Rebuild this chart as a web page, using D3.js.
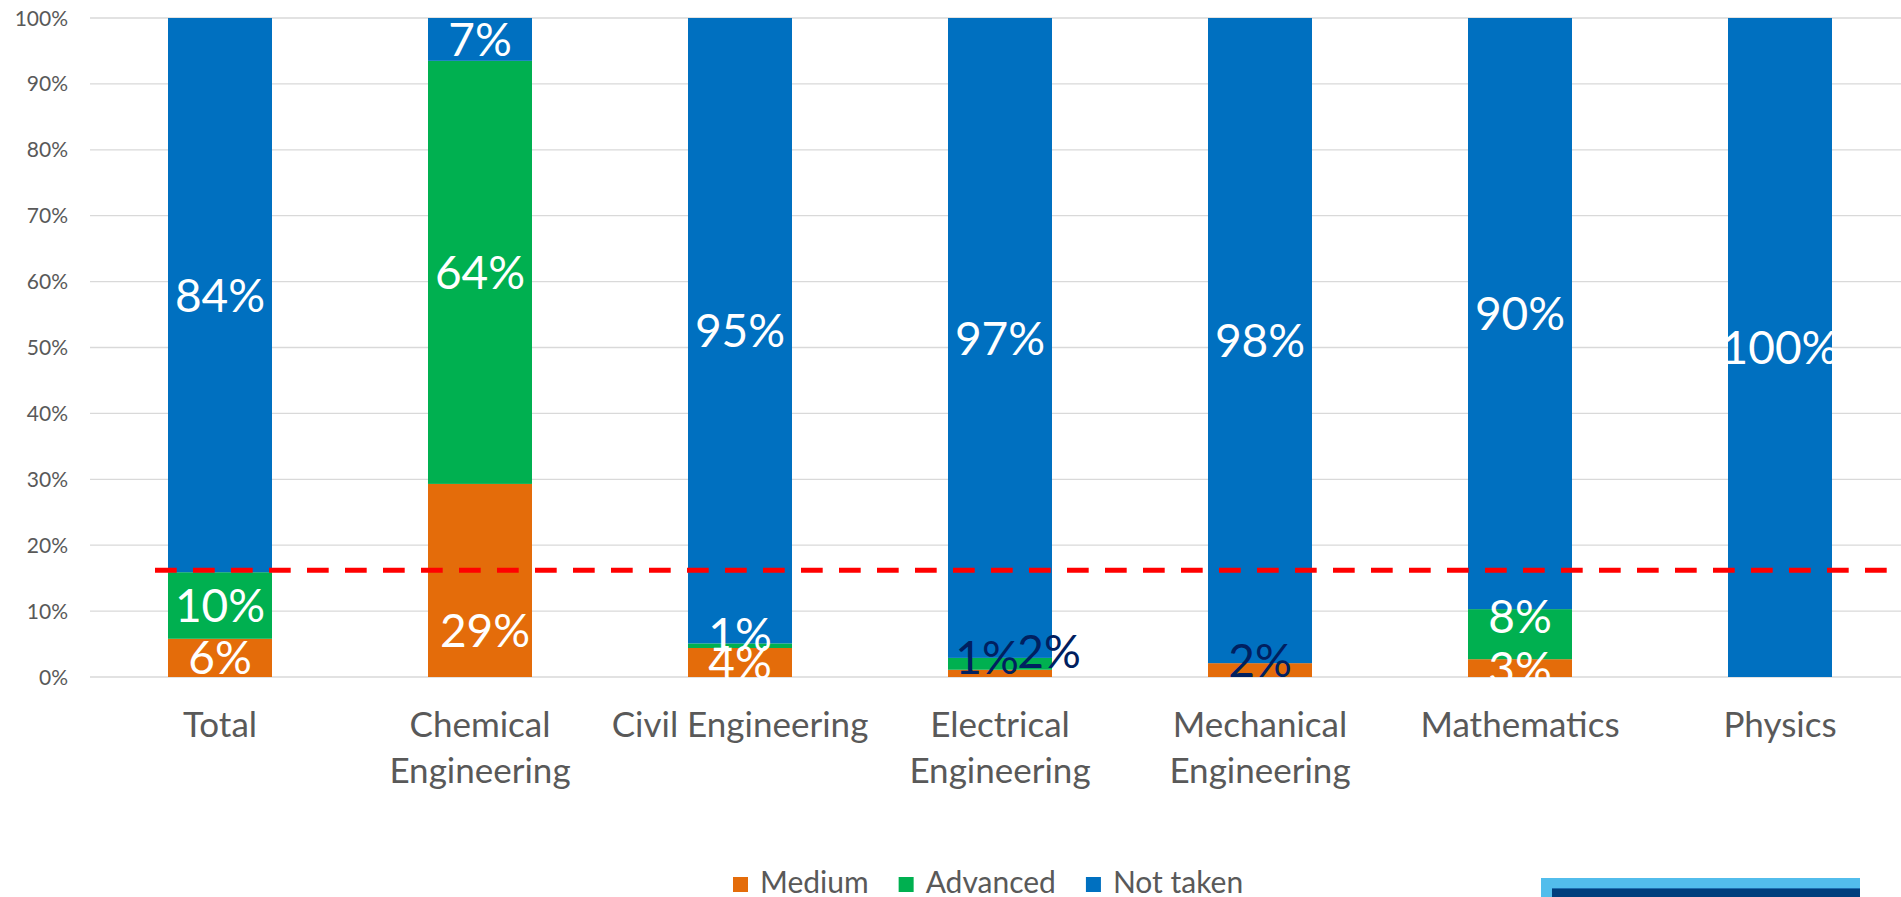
<!DOCTYPE html>
<html>
<head>
<meta charset="utf-8">
<script src="https://cdn.jsdelivr.net/npm/d3@7"></script>
<style>
  html, body { margin: 0; padding: 0; background: #ffffff; }
  svg { display: block; }
  text { font-family: Lato, "Open Sans", sans-serif; }
</style>
</head>
<body>
<svg id="chart" width="1901" height="897"></svg>
<script>
// Share of students by level of course taken, per programme (percent)
const categories = ["Total", "Chemical Engineering", "Civil Engineering", "Electrical Engineering",
                    "Mechanical Engineering", "Mathematics", "Physics"];
const categoryLines = [["Total"], ["Chemical", "Engineering"], ["Civil Engineering"],
                       ["Electrical", "Engineering"], ["Mechanical", "Engineering"], ["Mathematics"], ["Physics"]];
const seriesNames = ["Medium", "Advanced", "Not taken"];
const medium   = [5.8, 29.3, 4.4, 1.1, 2.1, 2.7, 0];
const advanced = [10.1, 64.2, 0.7, 1.8, 0, 7.6, 0];
const notTaken = [84.1, 6.5, 94.9, 97.1, 97.9, 89.7, 100];
const mediumLabels   = ["6%", "29%", "4%", "1%", "2%", "3%", ""];
const advancedLabels = ["10%", "64%", "1%", "2%", "", "8%", ""];
const notTakenLabels = ["84%", "7%", "95%", "97%", "98%", "90%", "100%"];
const referenceLine = 16.2;
const yTicks = [0, 10, 20, 30, 40, 50, 60, 70, 80, 90, 100];

const colors = { "Medium": "#E46C0A", "Advanced": "#00B050", "Not taken": "#0070C0" };

// Label placement tweaks (pixels) for crowded segments
const labelNudge = {
  "Chemical Engineering|Medium": { dx: 5, dy: 50 },
  "Civil Engineering|Advanced": { dx: 0, dy: -11 },
  "Electrical Engineering|Medium": { dx: -13, dy: -16, dark: true },
  "Electrical Engineering|Advanced": { dx: 49, dy: -12, dark: true },
  "Mechanical Engineering|Medium": { dx: 0, dy: -10, dark: true },
  "Mathematics|Advanced": { dx: 0, dy: -18 }
};

const svg = d3.select("#chart");

const x = d3.scaleBand().domain(categories).range([90, 1910]).paddingInner(0.6).paddingOuter(0.3);
const y = d3.scaleLinear().domain([0, 100]).range([677, 18]);

// Gridlines
svg.append("g").selectAll("line").data(yTicks).join("line")
  .attr("x1", 90).attr("x2", 1901)
  .attr("y1", d => y(d)).attr("y2", d => y(d))
  .attr("stroke", "#D9D9D9").attr("stroke-width", 1.3);

// Y axis tick labels
svg.append("g").selectAll("text").data(yTicks).join("text")
  .attr("x", 68).attr("y", d => y(d)).attr("dy", "0.36em")
  .attr("text-anchor", "end").attr("fill", "#595959").attr("font-size", 21)
  .text(d => d + "%");

// Stacked bars
const rows = categories.map((c, i) => ({ category: c, "Medium": medium[i], "Advanced": advanced[i], "Not taken": notTaken[i],
  labels: { "Medium": mediumLabels[i], "Advanced": advancedLabels[i], "Not taken": notTakenLabels[i] } }));
const stacked = d3.stack().keys(seriesNames)(rows);

const layers = svg.append("g").selectAll("g").data(stacked).join("g")
  .attr("fill", d => colors[d.key]);
layers.selectAll("rect").data(d => d).join("rect")
  .attr("x", d => x(d.data.category))
  .attr("width", x.bandwidth())
  .attr("y", d => y(d[1]))
  .attr("height", d => Math.max(0, y(d[0]) - y(d[1])));

// Reference line
svg.append("line")
  .attr("x1", 155).attr("x2", 1892)
  .attr("y1", y(referenceLine)).attr("y2", y(referenceLine))
  .attr("stroke", "#FF0000").attr("stroke-width", 5)
  .attr("stroke-dasharray", "21.7,16.3");

// Data labels, centred in each segment
const labelData = [];
stacked.forEach(layer => {
  layer.forEach(d => {
    const text = d.data.labels[layer.key];
    if (!text) return;
    const nudge = labelNudge[d.data.category + "|" + layer.key] || { dx: 0, dy: 0 };
    labelData.push({
      text,
      x: x(d.data.category) + x.bandwidth() / 2 + nudge.dx,
      y: (y(d[0]) + y(d[1])) / 2 + nudge.dy,
      dark: !!nudge.dark
    });
  });
});
svg.append("g").selectAll("text").data(labelData).join("text")
  .attr("x", d => d.x).attr("y", d => d.y).attr("dy", "0.36em")
  .attr("text-anchor", "middle")
  .attr("font-size", 46)
  .attr("fill", d => d.dark ? "#002060" : "#FFFFFF")
  .text(d => d.text);

// Category axis labels
const catG = svg.append("g").selectAll("text").data(categories).join("text")
  .attr("x", d => x(d) + x.bandwidth() / 2)
  .attr("y", 737)
  .attr("text-anchor", "middle").attr("fill", "#595959").attr("font-size", 35);
catG.each(function(d, i) {
  d3.select(this).selectAll("tspan").data(categoryLines[i]).join("tspan")
    .attr("x", x(d) + x.bandwidth() / 2)
    .attr("dy", (t, j) => j === 0 ? 0 : 46)
    .text(t => t);
});

// Legend
const legend = svg.append("g");
let lx = 733;
seriesNames.forEach(name => {
  legend.append("rect").attr("x", lx).attr("y", 877).attr("width", 15).attr("height", 15)
    .attr("fill", colors[name]);
  const t = legend.append("text").attr("x", lx + 27).attr("y", 893)
    .attr("fill", "#595959").attr("font-size", 30).text(name);
  lx += 27 + t.node().getComputedTextLength() + 30;
});

// Footer band decoration
svg.append("rect").attr("x", 1541).attr("y", 878).attr("width", 319).attr("height", 19).attr("fill", "#52BDEC");
svg.append("rect").attr("x", 1552).attr("y", 888).attr("width", 308).attr("height", 9).attr("fill", "#003F7D");
svg.append("line").attr("x1", 1552).attr("x2", 1860).attr("y1", 888.5).attr("y2", 888.5).attr("stroke", "#1F6FB0").attr("stroke-width", 1);
</script>
</body>
</html>
